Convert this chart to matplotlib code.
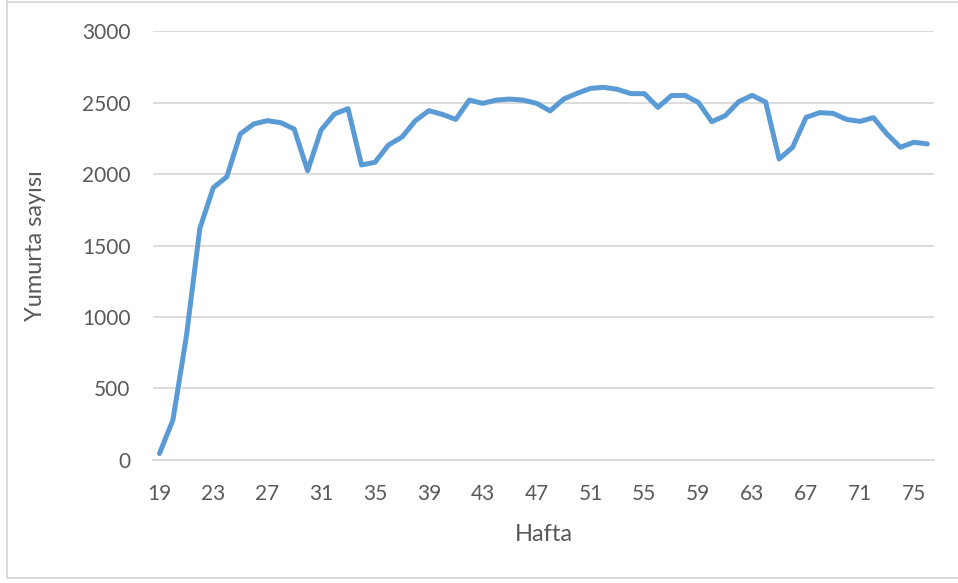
import matplotlib
matplotlib.use("Agg")
import matplotlib.pyplot as plt
from matplotlib.lines import Line2D

weeks = list(range(19, 77))
eggs = [45, 280, 865, 1620, 1905, 1980, 2280, 2350, 2373, 2359, 2315, 2023,
        2308, 2420, 2457, 2063, 2082, 2203, 2258, 2373, 2443, 2417, 2382, 2517,
        2494, 2517, 2524, 2517, 2494, 2441, 2524, 2564, 2599, 2606, 2592, 2562,
        2562, 2466, 2548, 2550, 2501, 2366, 2408, 2506, 2550, 2503, 2105, 2187,
        2396, 2429, 2424, 2382, 2368, 2394, 2280, 2187, 2222, 2210]
tick_weeks = list(range(19, 77, 4))
y_ticks = [0, 500, 1000, 1500, 2000, 2500, 3000]

plt.rcParams['font.family'] = ['Lato', 'DejaVu Sans']
txt = '#595959'

fig = plt.figure(figsize=(9.58, 5.83), dpi=100)
ax = fig.add_axes([0.1594, 0.211, 0.975 - 0.1594, 0.9468 - 0.211])
ax.plot(weeks, eggs, color='#5B9BD5', lw=3.6, solid_joinstyle='round', solid_capstyle='round')
ax.set_xlim(18.5, 76.5)
ax.set_ylim(0, 3000)
ax.set_yticks(y_ticks)
ax.set_xticks(tick_weeks)
ax.set_xticklabels([str(w) for w in tick_weeks])
ax.grid(axis='y', color='#D9D9D9', lw=1.3)
ax.set_axisbelow(True)
for s in ['top', 'right', 'left']:
    ax.spines[s].set_visible(False)
ax.spines['bottom'].set_color('#D9D9D9')
ax.spines['bottom'].set_linewidth(1.3)
ax.tick_params(axis='both', length=0, labelsize=15, colors=txt)
ax.tick_params(axis='x', pad=17)
ax.tick_params(axis='y', pad=16)
ax.set_xlabel('Hafta', fontsize=17, color=txt, labelpad=15)
ax.set_ylabel('Yumurta sayısı', fontsize=17, color=txt, labelpad=26)

# outer chart border
bc = '#D9D9D9'
fig.add_artist(Line2D([7/958, 7/958], [1 - 1/583, 1 - 578/583], transform=fig.transFigure, color=bc, lw=1.3))
fig.add_artist(Line2D([7/958, 1], [1 - 1.5/583, 1 - 1.5/583], transform=fig.transFigure, color=bc, lw=1.3))
fig.add_artist(Line2D([7/958, 1], [1 - 578/583, 1 - 578/583], transform=fig.transFigure, color=bc, lw=1.3))

fig.savefig('out.png', dpi=100, facecolor='white')
